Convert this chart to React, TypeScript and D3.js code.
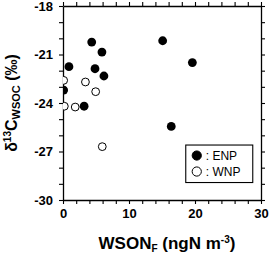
import { useEffect, useRef } from 'react';
import * as d3 from 'd3';

// WSON_F (ngN m-3) vs d13C_WSOC (permil)
const enpX = [4.35, 15.1, 5.9, 0.9, 4.85, 6.2, 0.1, 3.2, 16.4, 19.6];
const enpY = [-20.23, -20.15, -20.85, -21.75, -21.88, -22.33, -23.2, -24.2, -25.45, -21.5];
const wnpX = [0.1, 3.4, 4.95, 0.2, 1.85, 5.95];
const wnpY = [-22.6, -22.7, -23.3, -24.2, -24.25, -26.7];

const xTicks = d3.range(0, 31, 2);
const yTicks = d3.range(-30, -17, 1);

const W = 271;
const H = 254;
const margin = { top: 6, right: 10, bottom: 54, left: 63 };
const FONT = '"Liberation Sans", Arial, sans-serif';

const App = () => {
    const svgRef = useRef<SVGSVGElement>(null);

    useEffect(() => {
        const svg = d3.select(svgRef.current);
        svg.selectAll('*').remove();

        const innerW = W - margin.left - margin.right;
        const innerH = H - margin.top - margin.bottom;

        const x = d3.scaleLinear().domain([0, 30]).range([0, innerW]);
        const y = d3.scaleLinear().domain([-30, -18]).range([innerH, 0]);

        const g = svg.append('g').attr('transform', `translate(${margin.left},${margin.top})`);

        g.append('clipPath').attr('id', 'plot-clip')
            .append('rect').attr('width', innerW).attr('height', innerH);

        const styleAxis = (sel, showText) => {
            sel.select('.domain').attr('stroke', '#000').attr('stroke-width', 1.3);
            sel.selectAll('.tick line').attr('stroke', '#000').attr('stroke-width', 1.1);
            sel.selectAll('.tick text')
                .attr('fill', '#000')
                .style('font-family', FONT)
                .style('font-weight', 'bold')
                .style('font-size', '13px');
            if (!showText) sel.selectAll('.tick text').remove();
        };

        g.append('g')
            .attr('transform', `translate(0,${innerH})`)
            .call(d3.axisBottom(x).tickValues(xTicks).tickSize(4).tickSizeOuter(0).tickPadding(5)
                .tickFormat(d => (d % 10 === 0 ? String(d) : '')))
            .call(s => styleAxis(s, true));

        g.append('g')
            .call(d3.axisTop(x).tickValues(xTicks).tickSize(4).tickSizeOuter(0))
            .call(s => styleAxis(s, false));

        g.append('g')
            .call(d3.axisLeft(y).tickValues(yTicks).tickSize(4).tickSizeOuter(0).tickPadding(6)
                .tickFormat(d => (d % 3 === 0 ? String(d) : '')))
            .call(s => styleAxis(s, true));

        g.append('g')
            .attr('transform', `translate(${innerW},0)`)
            .call(d3.axisRight(y).tickValues(yTicks).tickSize(4).tickSizeOuter(0))
            .call(s => styleAxis(s, false));

        const pts = g.append('g').attr('clip-path', 'url(#plot-clip)');

        pts.selectAll('circle.enp')
            .data(enpX.map((v, i) => [v, enpY[i]]))
            .join('circle')
            .attr('class', 'enp')
            .attr('cx', d => x(d[0]))
            .attr('cy', d => y(d[1]))
            .attr('r', 4.4)
            .attr('fill', '#000');

        pts.selectAll('circle.wnp')
            .data(wnpX.map((v, i) => [v, wnpY[i]]))
            .join('circle')
            .attr('class', 'wnp')
            .attr('cx', d => x(d[0]))
            .attr('cy', d => y(d[1]))
            .attr('r', 3.9)
            .attr('fill', '#fff')
            .attr('stroke', '#000')
            .attr('stroke-width', 1);

        // legend
        const lg = g.append('g').attr('transform', `translate(${x(18.6)},${y(-26.6)})`);
        lg.append('rect')
            .attr('width', 67).attr('height', 37.5)
            .attr('fill', '#fff').attr('stroke', '#000').attr('stroke-width', 1.1);
        const items = [['ENP', '#000'], ['WNP', '#fff']];
        items.forEach(([name, fill], i) => {
            const row = lg.append('g').attr('transform', `translate(11,${10.5 + i * 16})`);
            row.append('circle').attr('r', 4.6).attr('fill', fill).attr('stroke', '#000').attr('stroke-width', 1);
            row.append('text')
                .attr('x', 9).attr('y', 4.5)
                .style('font-family', FONT).style('font-size', '12px')
                .text(`: ${name}`);
        });

        // axis titles
        const xt = svg.append('text')
            .attr('x', margin.left + innerW / 2 + 5)
            .attr('y', 249)
            .attr('text-anchor', 'middle')
            .style('font-family', FONT).style('font-weight', 'bold').style('font-size', '17px');
        xt.append('tspan').text('WSON');
        xt.append('tspan').attr('dy', 3).style('font-size', '10px').text('F');
        xt.append('tspan').attr('dy', -3).text(' (ngN m');
        xt.append('tspan').attr('dy', -6).style('font-size', '10px').text('-3');
        xt.append('tspan').attr('dy', 6).text(')');

        const yt = svg.append('text')
            .attr('transform', `translate(17,${margin.top + innerH / 2}) rotate(-90)`)
            .attr('text-anchor', 'middle')
            .style('font-family', FONT).style('font-weight', 'bold').style('font-size', '16px');
        yt.append('tspan').text('δ');
        yt.append('tspan').attr('dy', -6).style('font-size', '10px').text('13');
        yt.append('tspan').attr('dy', 6).text('C');
        yt.append('tspan').attr('dy', 3).style('font-size', '11px').text('WSOC');
        yt.append('tspan').attr('dy', -3).text(' (‰)');
    }, []);

    return (
        <svg
            ref={svgRef}
            width={W}
            height={H}
            style={{ position: 'absolute', left: 0, top: 0, background: '#fff' }}
        />
    );
};

export default App;
